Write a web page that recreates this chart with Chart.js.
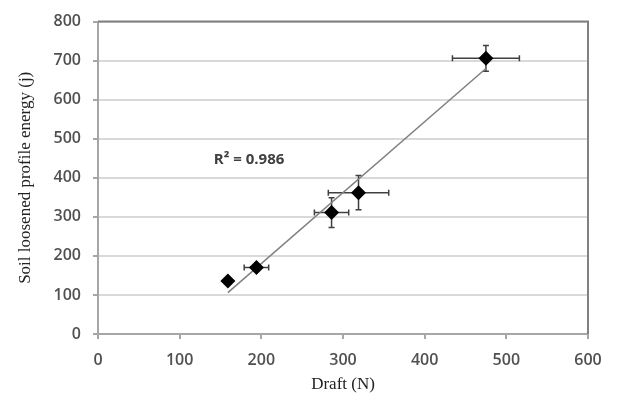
<!DOCTYPE html>
<html>
<head>
<meta charset="utf-8">
<script src="https://cdn.jsdelivr.net/npm/chart.js@4/dist/chart.umd.min.js"></script>
<style>
  html, body { margin: 0; padding: 0; background: #fff; }
  #wrap { width: 619px; height: 409px; }
</style>
</head>
<body>
<div id="wrap"><canvas id="chart" width="619" height="409"></canvas></div>
<script>
// data
const draftN = [159, 194, 286, 319, 475];
const energyJ = [136, 170, 311, 362, 706];
const draftErr = [0, 15, 21, 37, 41];
const energyErr = [0, 0, 38, 44, 33];

// trend line end points
const trendX = [159, 475];
const trendY = [106, 680];

const r2Text = 'R² = 0.986';
const r2Pos = { x: 185, y: 447 };

const tickFont = { family: '"Open Sans", sans-serif', size: 16, weight: '600' };
const titleFont = { family: '"Liberation Serif", "Times New Roman", serif', size: 17 };

// error bars + plot box + R2 label
const extras = {
  id: 'extras',
  beforeDatasetsDraw(chart) {
    const { ctx, chartArea: a, scales: { x, y } } = chart;
    ctx.save();
    ctx.strokeStyle = '#808080';
    ctx.lineWidth = 2;
    ctx.beginPath();
    ctx.moveTo(a.left, a.top);
    ctx.lineTo(a.right, a.top);
    ctx.lineTo(a.right, a.bottom);
    ctx.stroke();

    ctx.strokeStyle = '#404040';
    ctx.lineWidth = 1.5;
    const cap = 3;
    draftN.forEach((d, i) => {
      const px = x.getPixelForValue(d);
      const py = y.getPixelForValue(energyJ[i]);
      if (draftErr[i]) {
        const l = x.getPixelForValue(d - draftErr[i]);
        const r = x.getPixelForValue(d + draftErr[i]);
        ctx.beginPath();
        ctx.moveTo(l, py); ctx.lineTo(r, py);
        ctx.moveTo(l, py - cap); ctx.lineTo(l, py + cap);
        ctx.moveTo(r, py - cap); ctx.lineTo(r, py + cap);
        ctx.stroke();
      }
      if (energyErr[i]) {
        const t = y.getPixelForValue(energyJ[i] + energyErr[i]);
        const b = y.getPixelForValue(energyJ[i] - energyErr[i]);
        ctx.beginPath();
        ctx.moveTo(px, t); ctx.lineTo(px, b);
        ctx.moveTo(px - cap, t); ctx.lineTo(px + cap, t);
        ctx.moveTo(px - cap, b); ctx.lineTo(px + cap, b);
        ctx.stroke();
      }
    });

    ctx.fillStyle = '#404040';
    ctx.font = 'bold 15px "Open Sans", sans-serif';
    ctx.textAlign = 'center';
    ctx.textBaseline = 'middle';
    ctx.fillText(r2Text, x.getPixelForValue(r2Pos.x), y.getPixelForValue(r2Pos.y));
    ctx.restore();
  }
};

new Chart(document.getElementById('chart'), {
  type: 'scatter',
  data: {
    datasets: [
      {
        label: 'Energy',
        data: draftN.map((d, i) => ({ x: d, y: energyJ[i] })),
        pointStyle: 'rectRot',
        pointRadius: 7.5,
        pointHoverRadius: 7.5,
        backgroundColor: '#000',
        borderColor: '#000',
        borderWidth: 0
      },
      {
        label: 'Trend',
        type: 'line',
        data: trendX.map((d, i) => ({ x: d, y: trendY[i] })),
        borderColor: '#808080',
        borderWidth: 1.5,
        pointRadius: 0,
        fill: false
      }
    ]
  },
  options: {
    responsive: false,
    animation: false,
    layout: { padding: { left: 0, top: 17, right: 31, bottom: 0 } },
    plugins: { legend: { display: false }, tooltip: { enabled: false } },
    scales: {
      x: {
        type: 'linear',
        min: 0, max: 600,
        afterFit: s => { s.height = 75; },
        ticks: { stepSize: 100, color: '#505050', font: tickFont, padding: 12, maxRotation: 0 },
        grid: { drawOnChartArea: false, drawTicks: true, tickLength: 5, color: '#a6a6a6', lineWidth: 2 },
        border: { color: '#a6a6a6', width: 2 },
        title: { display: true, text: 'Draft (N)', color: '#222', font: titleFont, padding: { top: 0, bottom: 14 } }
      },
      y: {
        min: 0, max: 800,
        afterFit: s => { s.width = 98; },
        ticks: { stepSize: 100, color: '#505050', font: tickFont, padding: 12 },
        grid: { color: '#d9d9d9', lineWidth: 2, tickLength: 5, tickColor: '#a6a6a6' },
        border: { color: '#a6a6a6', width: 2 },
        title: { display: true, text: 'Soil loosened profile energy (j)', color: '#222', font: titleFont, padding: { top: 15, bottom: 0 } }
      }
    }
  },
  plugins: [extras]
});
</script>
</body>
</html>
